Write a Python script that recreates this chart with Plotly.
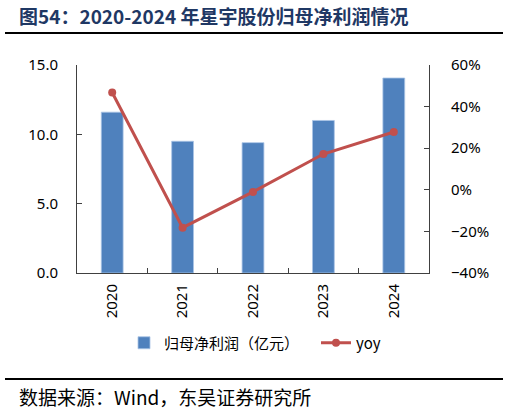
import plotly.graph_objects as go

years = ["2020", "2021", "2022", "2023", "2024"]
profit = [11.6, 9.5, 9.4, 11.0, 14.06]
yoy = [46.8, -18.2, -1.0, 17.2, 27.8]

W, H = 509, 413
L, R, T, B = 77, 80, 65, 140
pw = W - L - R
ph = H - T - B

def px(x):
    return (x - L) / pw

def py(y):
    return (H - B - y) / ph

fig = go.Figure()
fig.add_trace(go.Bar(
    x=years, y=profit, name="归母净利润（亿元）",
    marker=dict(color="#4F81BD", line=dict(color="#A9C4E6", width=0.8)),
    width=0.31, yaxis="y", legend="legend",
))
fig.add_trace(go.Scatter(
    x=years, y=yoy, name="yoy", mode="lines+markers",
    line=dict(color="#C0504D", width=3),
    marker=dict(color="#C0504D", size=8),
    yaxis="y2", legend="legend2",
))

tickfont = dict(family="Noto Sans, sans-serif", size=15, color="#000000")
legfont = dict(family="Noto Sans CJK SC, sans-serif", size=15, color="#000000")

fig.update_layout(
    width=W, height=H,
    margin=dict(l=L, r=R, t=T, b=B, pad=0),
    paper_bgcolor="white", plot_bgcolor="white",
    showlegend=True,
    legend=dict(
        orientation="h", x=px(124), y=py(343), yanchor="middle", xanchor="left",
        font=legfont, itemwidth=30, tracegroupgap=0,
    ),
    legend2=dict(
        orientation="h", x=px(316), y=py(343), yanchor="middle", xanchor="left",
        font=legfont, itemwidth=30, tracegroupgap=0,
    ),
    xaxis=dict(
        type="category", showline=True, linecolor="#404040", linewidth=1,
        ticks="inside", ticklen=5, tickcolor="#404040", tickson="boundaries",
        tickangle=-90, tickfont=tickfont, showgrid=False, mirror=False,
        range=[-0.5, 4.5], ticklabelstandoff=4,
    ),
    yaxis=dict(
        range=[0, 15], dtick=5, tickformat=".1f", showline=True,
        linecolor="#404040", linewidth=1, ticks="inside", ticklen=5,
        tickcolor="#404040", showgrid=False, zeroline=False, tickfont=tickfont,
        ticklabelstandoff=15,
    ),
    yaxis2=dict(
        range=[-40, 60], dtick=20, ticksuffix="%", overlaying="y", side="right",
        showline=True, linecolor="#404040", linewidth=1, ticks="inside",
        ticklen=5, tickcolor="#404040", showgrid=False, zeroline=False,
        tickfont=tickfont, ticklabelstandoff=18,
    ),
    font=dict(family="Noto Sans CJK SC, sans-serif"),
)

fig.add_annotation(
    text="<b>图54：2020-2024 年星宇股份归母净利润情况</b>",
    xref="paper", yref="paper", x=px(17), y=py(16), xanchor="left", yanchor="middle",
    showarrow=False, font=dict(family="Noto Sans CJK SC, serif", size=19, color="#1F3864"),
)
fig.add_annotation(
    text="数据来源：Wind，东吴证券研究所",
    xref="paper", yref="paper", x=px(17), y=py(396), xanchor="left", yanchor="middle",
    showarrow=False, font=dict(family="Noto Sans CJK SC, serif", size=19, color="#000000"),
)
fig.add_shape(type="line", xref="paper", yref="paper",
              x0=px(5), x1=px(503), y0=py(33), y1=py(33),
              line=dict(color="#000000", width=2))
fig.add_shape(type="line", xref="paper", yref="paper",
              x0=px(5), x1=px(503), y0=py(379), y1=py(379),
              line=dict(color="#000000", width=2))

fig.write_html(
    "out.html",
    config={"displayModeBar": False},
    post_script="document.body.style.margin='0';document.body.style.padding='0';",
)
